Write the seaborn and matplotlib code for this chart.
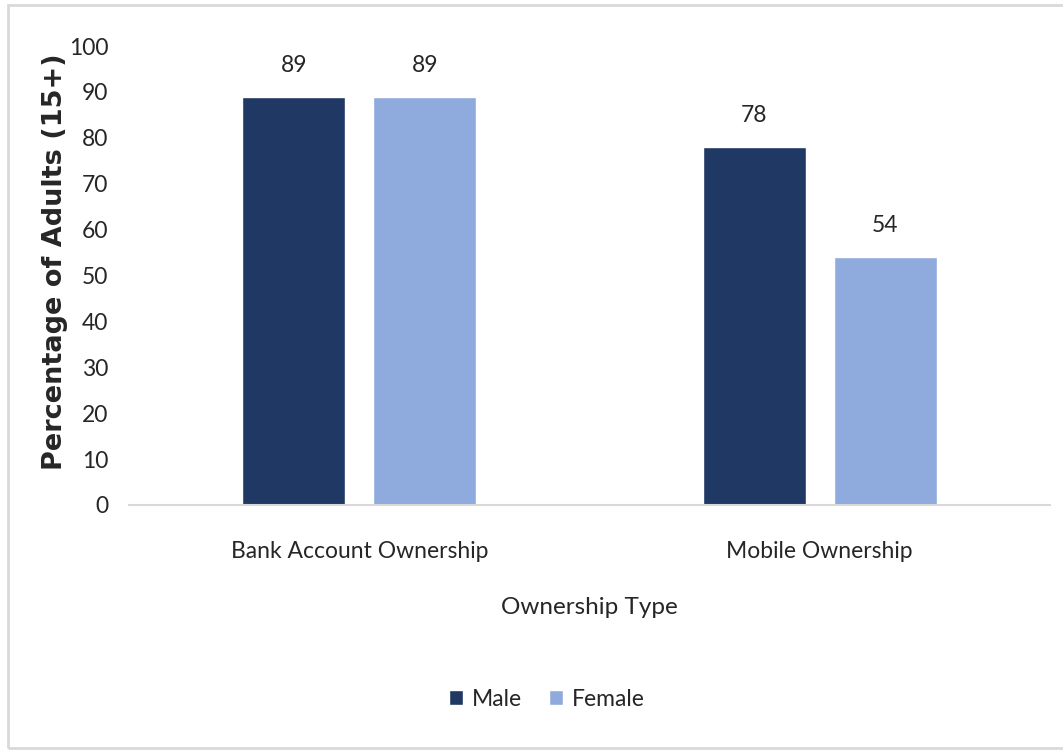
import matplotlib
matplotlib.use("Agg")
import matplotlib.pyplot as plt
import seaborn as sns
import pandas as pd
from matplotlib.patches import Rectangle

# Ownership rates by gender (% of adults aged 15+)
ownership_types = ["Bank Account Ownership", "Mobile Ownership"]
male_values = [89, 78]
female_values = [89, 54]
genders = ["Male", "Female"]
colors = {"Male": "#203864", "Female": "#8FAADC"}

df = pd.DataFrame({
    "Ownership Type": ownership_types * 2,
    "Value": male_values + female_values,
    "Gender": ["Male"] * len(ownership_types) + ["Female"] * len(ownership_types),
})

sns.set_theme(style="white")
plt.rcParams["font.family"] = ["Lato", "DejaVu Sans"]
text_color = "#262626"
fs = 16.5

fig = plt.figure(figsize=(10.63, 7.51), dpi=100)
ax = fig.add_axes([0.1214, 0.3276, 0.8664, 0.6111])

sns.barplot(data=df, x="Ownership Type", y="Value", hue="Gender",
            hue_order=genders, palette=colors, width=0.569, gap=0.214,
            saturation=1, ax=ax, legend=True)

for container in ax.containers:
    ax.bar_label(container, fmt="%d", padding=15, fontsize=fs, color=text_color)

ax.set_ylim(0, 100)
ax.set_xlim(-0.5, 1.5)
ax.set_yticks(range(0, 101, 10))
ax.tick_params(axis="y", length=0, pad=15, labelsize=fs, labelcolor=text_color)
ax.tick_params(axis="x", length=0, pad=26, labelsize=fs, labelcolor=text_color)

for side in ["top", "right", "left"]:
    ax.spines[side].set_visible(False)
ax.spines["bottom"].set_color("#D9D9D9")
ax.spines["bottom"].set_linewidth(1.5)

ax.set_ylabel("")
ax.set_xlabel("Ownership Type", fontsize=fs + 1, color=text_color, labelpad=25)

fig.text(55 / 1063, 1 - 262 / 751, "Percentage of Adults (15+)", rotation=90,
         ha="center", va="center", fontsize=19.5, fontweight="bold",
         family=["DejaVu Sans"], color=text_color)

handles, labels = ax.get_legend_handles_labels()
ax.get_legend().remove()
fig.legend(handles, labels, loc="center", ncol=2, frameon=False,
           bbox_to_anchor=(547 / 1063, 1 - 699 / 751), fontsize=fs,
           handlelength=0.6, handleheight=0.6, handletextpad=0.4,
           columnspacing=1.2, labelcolor=text_color)

fig.patches.append(Rectangle((8 / 1063, 3 / 751), 1.2, 1 - 8 / 751,
                             transform=fig.transFigure, fill=False,
                             edgecolor="#D9D9D9", linewidth=2, clip_on=False))

fig.savefig("out.png", dpi=100)
